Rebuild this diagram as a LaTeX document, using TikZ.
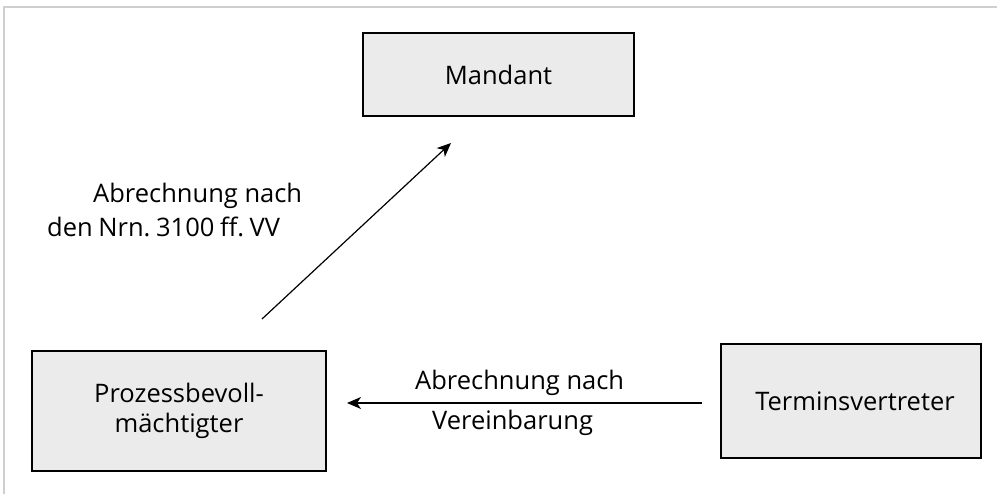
\documentclass[tikz,border=0pt]{standalone}
\usepackage{fontspec}
\setmainfont{Open Sans}
\usetikzlibrary{arrows.meta}
\definecolor{boxfill}{HTML}{EBEBEB}
\definecolor{framegray}{HTML}{CFCFCF}
\begin{document}
\begin{tikzpicture}[x=1pt,y=-1pt,
  box/.style={draw=black,fill=boxfill,line width=1.4pt,inner sep=0pt,align=center,font=\fontsize{25.5}{30}\selectfont},
  lbl/.style={inner sep=0pt,font=\fontsize{25.5}{30}\selectfont},
  conn/.style={line width=1.2pt,-{Stealth[length=14pt,width=12pt,inset=4pt]}},
  frame/.style={draw=framegray,line width=1.5pt}]
\useasboundingbox (0,0) rectangle (997,494);
\draw[frame] (997,7) -- (4,7) -- (4,494);
\node[box,minimum width=271pt,minimum height=83pt] (mandant) at (498.5,74.5) {Mandant};
\node[box,minimum width=294pt,minimum height=120pt] (prozess) at (179,411) {Prozessbevoll-\\mächtigter};
\node[box,minimum width=260pt,minimum height=114pt,text width=260pt] (termin) at (851,401) {\hspace*{8pt}Terminsvertreter};
\coordinate (d1) at (262,319);
\coordinate (d2) at (451,143);
\coordinate (h1) at (702,403);
\coordinate (h2) at (347,403);
\draw[conn] (d1) -- (d2);
\draw[conn] (h1) -- (h2);
\node[lbl,anchor=base west] (l1) at (93,203) {Abrechnung nach};
\node[lbl,anchor=base west] (l2) at (47,237) {\frenchspacing\spaceskip=0.22em den Nrn. 3100 ff. VV};
\node[lbl,anchor=base west] (l3) at (415,390) {Abrechnung nach};
\node[lbl,anchor=base west] (l4) at (432,430) {Vereinbarung};
\end{tikzpicture}
\end{document}
